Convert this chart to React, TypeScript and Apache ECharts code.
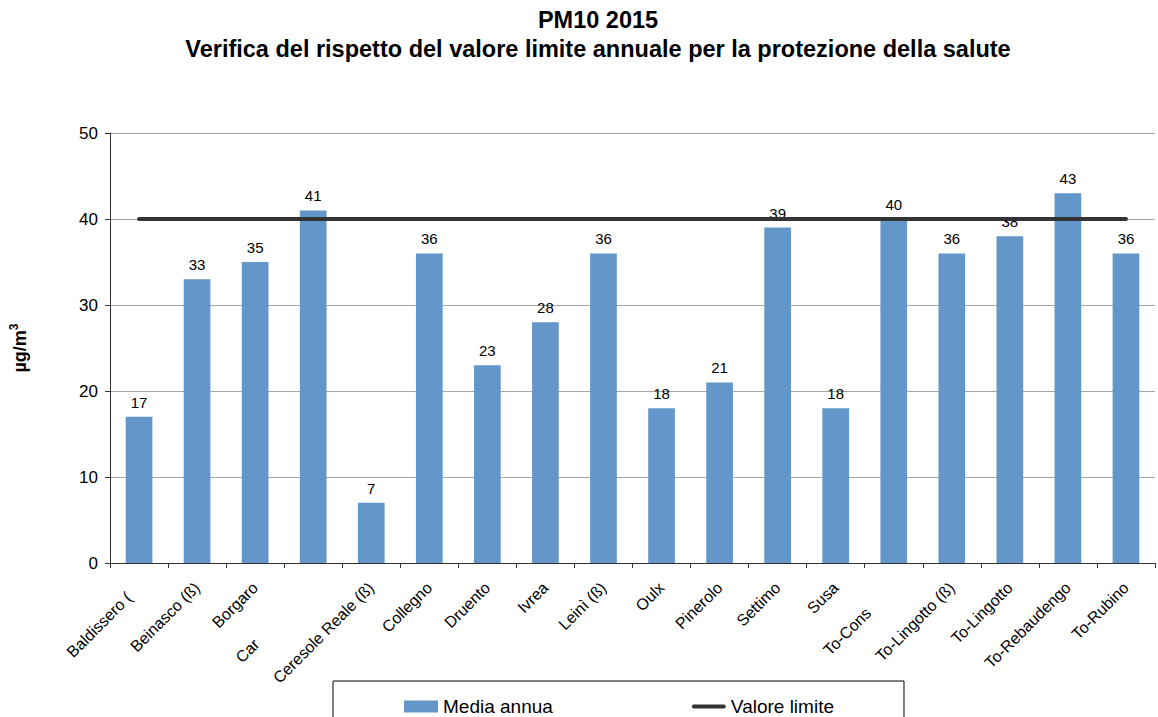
import React, { useEffect, useRef } from "react";
import * as echarts from "echarts";

const titleLines = ["PM10 2015", "Verifica del rispetto del valore limite annuale per la protezione della salute"];
const categories = [
  "Baldissero (", "Beinasco (ß)", "Borgaro", "Car", "Ceresole Reale (ß)", "Collegno", "Druento", "Ivrea",
  "Leinì (ß)", "Oulx", "Pinerolo", "Settimo", "Susa", "To-Cons", "To-Lingotto (ß)", "To-Lingotto",
  "To-Rebaudengo", "To-Rubino",
];
const mediaAnnua = [17, 33, 35, 41, 7, 36, 23, 28, 36, 18, 21, 39, 18, 40, 36, 38, 43, 36];
const valoreLimite = [40, 40, 40, 40, 40, 40, 40, 40, 40, 40, 40, 40, 40, 40, 40, 40, 40, 40];
const yTicks = { min: 0, max: 50, interval: 10 };
const seriesNames = ["Media annua", "Valore limite"];
const yAxisNameBase = "µg/m";
const yAxisNameSup = "3";

const FONT = "'Liberation Sans', Arial, sans-serif";

export default function App() {
  const ref = useRef<HTMLDivElement>(null);
  useEffect(() => {
    document.body.style.margin = "0";
    if (!ref.current) return;
    const chart = echarts.init(ref.current, undefined, { renderer: "svg" });
    const lbl = { fontSize: 16, color: "#000", fontFamily: FONT };
    chart.setOption({
      animation: false,
      backgroundColor: "#ffffff",
      textStyle: { fontFamily: FONT },
      title: {
        text: titleLines.join("\n"),
        left: 593,
        textAlign: "center",
        top: 0,
        textStyle: { fontSize: 23.5, fontWeight: "bold", color: "#000", lineHeight: 29, fontFamily: FONT },
      },
      legend: {
        left: 333,
        top: 681,
        padding: [16, 70, 20, 71],
        itemGap: 139,
        itemWidth: 34,
        itemHeight: 12,
        borderColor: "#000",
        borderWidth: 1,
        backgroundColor: "#fff",
        textStyle: { fontSize: 19, color: "#000", fontFamily: FONT },
        data: [
          { name: seriesNames[0], icon: "rect" },
          { name: seriesNames[1], icon: "path://M2,0 L34,0 A2,2 0 0 1 34,4 L2,4 A2,2 0 0 1 2,0 Z" },
        ],
      },
      grid: { left: 107, right: 3, top: 133, bottom: 154, containLabel: false },
      xAxis: {
        type: "category",
        data: categories,
        axisLine: { lineStyle: { color: "#333", width: 1 } },
        axisTick: { show: true, length: 5, lineStyle: { color: "#333" } },
        axisLabel: {
          rotate: 45,
          interval: 0,
          margin: 22,
          ...lbl,
          formatter: (v: string) => {
            if (v === "Car") return "{car|" + v + "}";
            if (v === "To-Cons") return "{cons|" + v + "}";
            if (v === "Baldissero (") return "{bal|" + v + "}";
            return v;
          },
          rich: {
            car: { ...lbl, padding: [0, 80, 0, 0] },
            cons: { ...lbl, padding: [0, 36, 0, 0] },
            bal: { ...lbl, padding: [0, 14, 0, 0] },
          },
        },
      },
      yAxis: {
        type: "value",
        min: yTicks.min,
        max: yTicks.max,
        interval: yTicks.interval,
        name: "{b|" + yAxisNameBase + "}{s|" + yAxisNameSup + "}",
        nameLocation: "middle",
        nameGap: 78,
        nameRotate: 90,
        nameTextStyle: {
          fontSize: 18,
          fontWeight: "bold",
          color: "#000",
          fontFamily: FONT,
          rich: {
            b: { fontSize: 18, fontWeight: "bold", color: "#000", fontFamily: FONT },
            s: { fontSize: 12, fontWeight: "bold", color: "#000", fontFamily: FONT, padding: [0, 0, 12, 0] },
          },
        },
        axisLine: { show: true, lineStyle: { color: "#333", width: 1 } },
        axisTick: { show: true, length: 5, lineStyle: { color: "#333" } },
        axisLabel: { fontSize: 17, color: "#000", margin: 12, fontFamily: FONT },
        splitLine: { show: true, lineStyle: { color: "#a6a6a6", width: 1 } },
      },
      series: [
        {
          name: seriesNames[0],
          type: "bar",
          data: mediaAnnua,
          barWidth: "46%",
          itemStyle: { color: "#6497c9" },
          label: {
            show: true,
            position: "top",
            distance: 7,
            fontSize: 15,
            color: "#000",
            fontFamily: FONT,
          },
          z: 2,
        },
        {
          name: seriesNames[1],
          type: "line",
          data: valoreLimite,
          symbol: "none",
          lineStyle: { color: "#333333", width: 4, cap: "round" },
          itemStyle: { color: "#333333" },
          z: 5,
        },
      ],
    });
    return () => chart.dispose();
  }, []);
  return <div ref={ref} style={{ width: 1158, height: 717 }} />;
}
